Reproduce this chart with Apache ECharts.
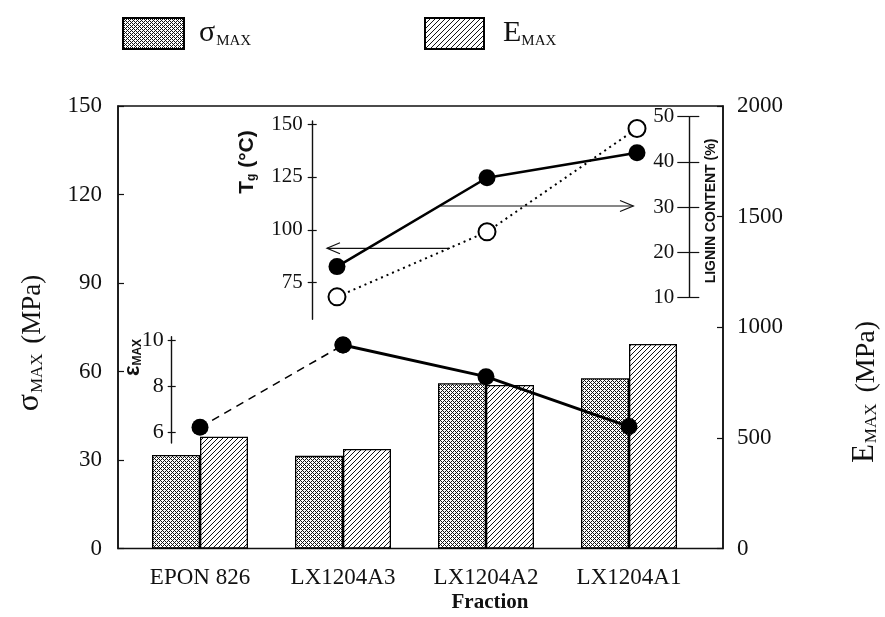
<!DOCTYPE html>
<html><head><meta charset="utf-8">
<script src="https://cdn.jsdelivr.net/npm/echarts@6/dist/echarts.min.js"></script>
<style>html,body{margin:0;padding:0;background:#fff}#c{width:885px;height:617px}</style>
</head><body><div id="c"></div>
<script>
// ---- data ----
const categories = ['EPON 826', 'LX1204A3', 'LX1204A2', 'LX1204A1'];
const sigmaMax = [31.7, 31.4, 56.0, 57.7];        // MPa (left axis)
const eMax = [505, 450, 739, 924];                 // MPa (right axis)
const epsMax = [6.22, 9.81, 8.43, 6.25];           // inset strain
const insetCategories = ['LX1204A3', 'LX1204A2', 'LX1204A1'];
const tgValues = [82.6, 124.6, 136.4];             // Tg (°C)
const ligninValues = [10.1, 24.5, 47.4];           // lignin content (%)
const epsTicks = [6, 8, 10];
const tgTicks = [75, 100, 125, 150];

const SERIF = 'Liberation Serif';
const SANS = 'Liberation Sans';
const INK = '#111';

function makePattern(kind) {
  const s = 20, c = document.createElement('canvas');
  c.width = s; c.height = s;
  const g = c.getContext('2d');
  const img = g.createImageData(s, s);
  for (let y = 0; y < s; y++) {
    for (let x = 0; x < s; x++) {
      let on;
      if (kind === 'cross') on = ((x + y) % 4 === 0) || ((x - y + 400) % 4 === 0);
      else on = ((x + y) % 5 === 0);
      const i = (y * s + x) * 4;
      const v = on ? 20 : 255;
      img.data[i] = v; img.data[i + 1] = v; img.data[i + 2] = v; img.data[i + 3] = 255;
    }
  }
  g.putImageData(img, 0, 0);
  return { image: c, repeat: 'repeat' };
}
const crossFill = makePattern('cross');
const hatchFill = makePattern('hatch');

const epsDashed = epsMax.map((v, i) => (i <= 1 ? v : '-'));
const epsSolid = epsMax.map((v, i) => (i >= 1 ? v : '-'));

const chart = echarts.init(document.getElementById('c'), null, { renderer: 'canvas' });

const hiddenY = (grid, min, max) => ({ gridIndex: grid, type: 'value', min, max, show: false, axisLine: { onZero: false } });
const hiddenCatX = (grid, data) => ({ gridIndex: grid, type: 'category', data, show: false });

const option = {
  animation: false,
  backgroundColor: '#fff',
  grid: [
    { left: 118, right: 162, top: 106, bottom: 68.5, show: true, borderColor: INK, borderWidth: 1.5, backgroundColor: 'transparent' },
    { left: 128.5, width: 572, top: 106, bottom: 68.5 },
    { left: 128.5, width: 572, top: 336.7, height: 106.3 },
    { left: 262, width: 450, top: 121, height: 198.3 },
    { left: 262, width: 450, top: 116.7, height: 180.6 }
  ],
  legend: [
    {
      left: 117, top: 12, itemWidth: 61, itemHeight: 31, icon: 'rect', selectedMode: false,
      data: ['σMAX'], formatter: () => '{s|σ}{m|MAX}',
      textStyle: { color: INK, rich: {
        s: { fontFamily: SERIF, fontSize: 30, padding: [0, 0, 0, 10], verticalAlign: 'bottom', color: INK },
        m: { fontFamily: SERIF, fontSize: 15, verticalAlign: 'bottom', color: INK, padding: [0, 0, 0, 1] } } }
    },
    {
      left: 419, top: 12, itemWidth: 59, itemHeight: 31, icon: 'rect', selectedMode: false,
      data: ['EMAX'], formatter: () => '{s|E}{m|MAX}',
      textStyle: { color: INK, rich: {
        s: { fontFamily: SERIF, fontSize: 30, padding: [0, 0, 0, 14], verticalAlign: 'bottom', color: INK },
        m: { fontFamily: SERIF, fontSize: 15, verticalAlign: 'bottom', color: INK } } }
    }
  ],
  xAxis: [
    hiddenCatX(0, categories),
    { gridIndex: 1, type: 'category', data: categories,
      axisLine: { show: false }, axisTick: { show: false },
      axisLabel: { fontFamily: SERIF, fontSize: 23, color: INK, margin: 18 } },
    hiddenCatX(2, categories),
    hiddenCatX(3, insetCategories),
    hiddenCatX(4, insetCategories)
  ],
  yAxis: [
    { gridIndex: 0, type: 'value', position: 'left', min: 0, max: 150, interval: 30,
      axisLine: { show: true, onZero: false, lineStyle: { color: INK, width: 1.5 } },
      axisTick: { show: true, inside: true, length: 6, lineStyle: { color: INK, width: 1.2 } },
      axisLabel: { fontFamily: SERIF, fontSize: 23, color: INK, margin: 16 },
      splitLine: { show: false } },
    { gridIndex: 0, type: 'value', position: 'right', min: 0, max: 2000, interval: 500,
      axisLine: { show: true, onZero: false, lineStyle: { color: INK, width: 1.5 } },
      axisTick: { show: true, inside: true, length: 6, lineStyle: { color: INK, width: 1.2 } },
      axisLabel: { fontFamily: SERIF, fontSize: 23, color: INK, margin: 14, formatter: v => String(v) },
      splitLine: { show: false } },
    hiddenY(1, 0, 150),
    hiddenY(1, 0, 2000),
    // eps inset axis (visible, shifted into the plot)
    { gridIndex: 2, type: 'value', position: 'left', offset: -43.2, min: 5.533, max: 10.175,
      axisLine: { show: true, onZero: false, lineStyle: { color: INK, width: 1.4 } },
      axisTick: { show: true, inside: false, length: 4, customValues: epsTicks, lineStyle: { color: INK, width: 1.2 } },
      axisLabel: { fontFamily: SERIF, fontSize: 22, color: INK, margin: 8, customValues: epsTicks },
      splitLine: { show: false } },
    { gridIndex: 2, type: 'value', position: 'left', offset: -43.2, min: 5.533, max: 10.175,
      axisLine: { show: false, onZero: false },
      axisTick: { show: true, inside: true, length: 4, customValues: epsTicks, lineStyle: { color: INK, width: 1.2 } },
      axisLabel: { show: false }, splitLine: { show: false } },
    // Tg inset axis
    { gridIndex: 3, type: 'value', position: 'left', offset: -50.7, min: 57.7, max: 151.42,
      axisLine: { show: true, onZero: false, lineStyle: { color: INK, width: 1.4 } },
      axisTick: { show: true, inside: false, length: 5, customValues: tgTicks, lineStyle: { color: INK, width: 1.2 } },
      axisLabel: { fontFamily: SERIF, fontSize: 21, color: INK, margin: 10, customValues: tgTicks },
      splitLine: { show: false } },
    { gridIndex: 3, type: 'value', position: 'left', offset: -50.7, min: 57.7, max: 151.42,
      axisLine: { show: false, onZero: false },
      axisTick: { show: true, inside: true, length: 4, customValues: tgTicks, lineStyle: { color: INK, width: 1.2 } },
      axisLabel: { show: false }, splitLine: { show: false } },
    // lignin inset axis
    { gridIndex: 4, type: 'value', position: 'right', offset: -22.7, min: 10, max: 50, interval: 10,
      axisLine: { show: true, onZero: false, lineStyle: { color: INK, width: 1.4 } },
      axisTick: { show: true, inside: true, length: 12, lineStyle: { color: INK, width: 1.2 } },
      axisLabel: { inside: true, fontFamily: SERIF, fontSize: 21, color: INK, margin: 15 },
      splitLine: { show: false } },
    { gridIndex: 4, type: 'value', position: 'right', offset: -22.7, min: 10, max: 50, interval: 10,
      axisLine: { show: false, onZero: false },
      axisTick: { show: true, inside: false, length: 10, lineStyle: { color: INK, width: 1.2 } },
      axisLabel: { show: false }, splitLine: { show: false } }
  ],
  series: [
    { name: 'σMAX', type: 'bar', xAxisIndex: 1, yAxisIndex: 2, data: sigmaMax,
      barWidth: 48, barGap: '0%',
      itemStyle: { color: crossFill, borderColor: '#000', borderWidth: 1.3 } },
    { name: 'EMAX', type: 'bar', xAxisIndex: 1, yAxisIndex: 3, data: eMax,
      barWidth: 48, barGap: '0%',
      itemStyle: { color: hatchFill, borderColor: '#000', borderWidth: 1.3 } },
    { name: 'eps-dashed', type: 'line', xAxisIndex: 2, yAxisIndex: 4, data: epsDashed, clip: false,
      symbol: 'circle', symbolSize: 17, itemStyle: { color: '#000' },
      lineStyle: { color: '#000', width: 1.5, type: [8, 6] }, z: 5 },
    { name: 'eps-solid', type: 'line', xAxisIndex: 2, yAxisIndex: 4, data: epsSolid, clip: false,
      symbol: 'circle', symbolSize: 17, itemStyle: { color: '#000' },
      lineStyle: { color: '#000', width: 3 }, z: 5 },
    { name: 'lignin', type: 'line', xAxisIndex: 4, yAxisIndex: 8, data: ligninValues, clip: false,
      symbol: 'emptyCircle', symbolSize: 17, itemStyle: { color: '#000', borderWidth: 2.2 },
      lineStyle: { color: '#000', width: 2, type: [2, 4] }, z: 5 },
    { name: 'Tg', type: 'line', xAxisIndex: 3, yAxisIndex: 6, data: tgValues, clip: false,
      symbol: 'circle', symbolSize: 17, itemStyle: { color: '#000' },
      lineStyle: { color: '#000', width: 2.6 }, z: 6 }
  ],
  graphic: [
    { type: 'text', x: 30, y: 343, rotation: Math.PI / 2,
      style: { text: '{a|σ}{b|MAX}{c| (MPa)}', align: 'center', verticalAlign: 'middle', fill: INK,
        rich: { a: { fontFamily: SERIF, fontSize: 32, verticalAlign: 'bottom', fill: INK },
                b: { fontFamily: SERIF, fontSize: 17, verticalAlign: 'bottom', fill: INK, padding: [0, 3, 0, 1] },
                c: { fontFamily: SERIF, fontSize: 27, verticalAlign: 'bottom', fill: INK } } } },
    { type: 'text', x: 865, y: 392, rotation: Math.PI / 2,
      style: { text: '{a|E}{b|MAX}{c| (MPa)}', align: 'center', verticalAlign: 'middle', fill: INK,
        rich: { a: { fontFamily: SERIF, fontSize: 31, verticalAlign: 'bottom', fill: INK },
                b: { fontFamily: SERIF, fontSize: 17, verticalAlign: 'bottom', fill: INK, padding: [0, 4, 0, 1] },
                c: { fontFamily: SERIF, fontSize: 28, verticalAlign: 'bottom', fill: INK } } } },
    { type: 'text', x: 490, y: 603,
      style: { text: 'Fraction', font: 'bold 21px "Liberation Serif"', align: 'center', verticalAlign: 'middle', fill: INK } },
    { type: 'text', x: 247, y: 162, rotation: Math.PI / 2,
      style: { text: '{t|T}{g|g}{c| (°C)}', align: 'center', verticalAlign: 'middle', fill: INK,
        rich: { t: { fontFamily: SANS, fontWeight: 'bold', fontSize: 21, verticalAlign: 'bottom', fill: INK },
                g: { fontFamily: SANS, fontWeight: 'bold', fontSize: 12, verticalAlign: 'bottom', fill: INK },
                c: { fontFamily: SANS, fontWeight: 'bold', fontSize: 21, verticalAlign: 'bottom', fill: INK } } } },
    { type: 'text', x: 132.5, y: 357.5, rotation: Math.PI / 2,
      style: { text: '{e|ε}{m|MAX}', align: 'center', verticalAlign: 'middle', fill: INK,
        rich: { e: { fontFamily: SANS, fontWeight: 'bold', fontSize: 22, verticalAlign: 'bottom', fill: INK },
                m: { fontFamily: SANS, fontWeight: 'bold', fontSize: 12, verticalAlign: 'bottom', fill: INK } } } },
    { type: 'text', x: 711, y: 211, rotation: Math.PI / 2,
      style: { text: 'LIGNIN CONTENT (%)', font: 'bold 14px "Liberation Sans"', align: 'center', verticalAlign: 'middle', fill: INK } },
    // arrows indicating which inset axis each curve uses
    { type: 'polyline', shape: { points: [[450, 248.3], [327, 248.3]] }, style: { stroke: INK, lineWidth: 1.2, fill: null } },
    { type: 'polyline', shape: { points: [[340, 242.8], [327, 248.3], [340, 253.8]] }, style: { stroke: INK, lineWidth: 1.2, fill: null } },
    { type: 'polyline', shape: { points: [[440.7, 206], [633.3, 206]] }, style: { stroke: INK, lineWidth: 1.2, fill: null } },
    { type: 'polyline', shape: { points: [[620, 200.5], [633.3, 206], [620, 211.5]] }, style: { stroke: INK, lineWidth: 1.2, fill: null } }
  ]
};
chart.setOption(option);
</script>
</body></html>
